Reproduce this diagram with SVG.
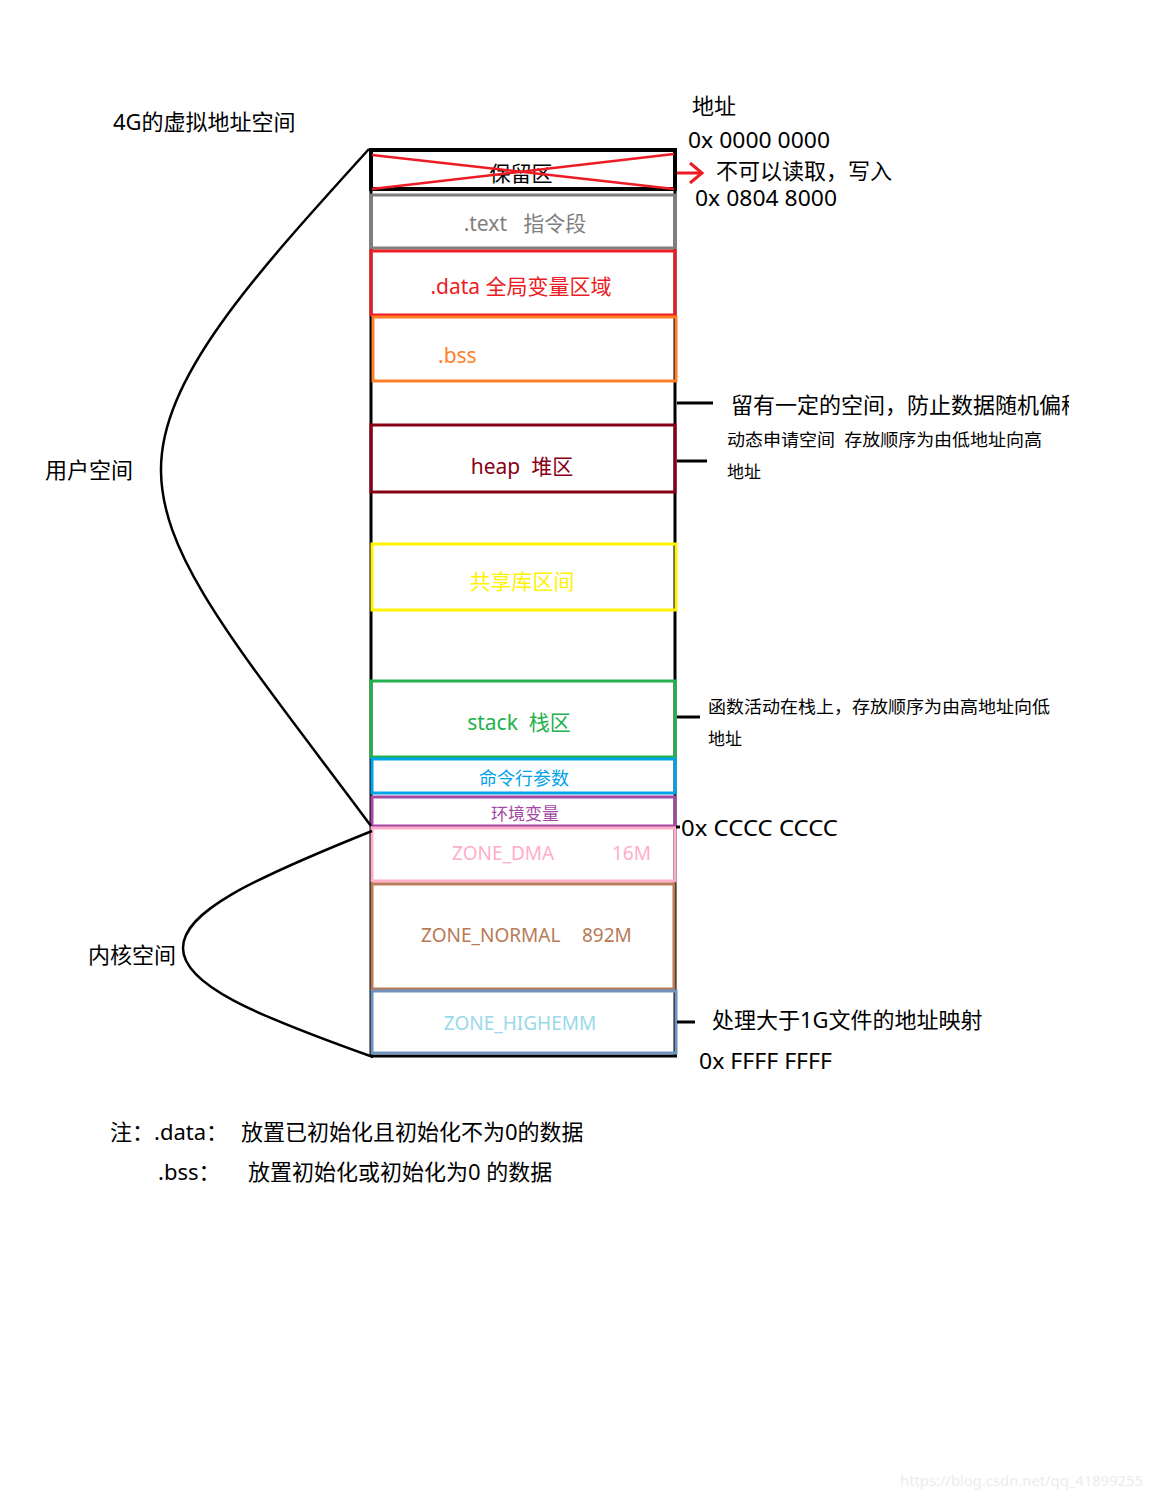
<svg xmlns="http://www.w3.org/2000/svg" width="1152" height="1500" viewBox="0 0 1152 1500">
<style>
text{font-family:"Noto Sans","Noto Sans CJK SC",sans-serif;white-space:pre;}
.t22{font-size:22px;fill:#000;}
.t17{font-size:17px;fill:#000;}
.box{fill:none;stroke-width:3;}
.bl{font-size:21px;text-anchor:middle;}
.zl{font-size:19px;}
.ln{fill:none;stroke:#000;stroke-width:2.5;}
.tk{stroke:#000;stroke-width:3;}
</style>
<defs>
<clipPath id="clipR"><rect x="0" y="0" width="1069" height="1500"/></clipPath>
</defs>
<rect width="1152" height="1500" fill="#fff"/>
<g id="frame">
<line x1="371" y1="148" x2="371" y2="1056" stroke="#000" stroke-width="3"/>
<line x1="675" y1="148" x2="675" y2="1056" stroke="#000" stroke-width="3"/>
<line x1="371" y1="1056" x2="677" y2="1056" stroke="#000" stroke-width="3"/>
</g>
<g id="reserved">
<rect x="371" y="150" width="304" height="39" fill="#fff" stroke="#000" stroke-width="4"/>
<text class="bl" x="521" y="181" fill="#000">保留区</text>
<line x1="372" y1="155" x2="674" y2="189" stroke="#ed1c24" stroke-width="2.5"/>
<line x1="372" y1="189" x2="674" y2="154" stroke="#ed1c24" stroke-width="2.5"/>
</g>
<g id="text-seg">
<rect class="box" x="371" y="195" width="304" height="53" stroke="#7f7f7f"/>
<text class="bl" x="525" y="231" fill="#7f7f7f">.text   指令段</text>
</g>
<g id="data-seg">
<rect class="box" x="371" y="251" width="304" height="64" stroke="#ed1c24"/>
<text class="bl" x="521" y="294" fill="#ed1c24">.data 全局变量区域</text>
</g>
<g id="bss-seg">
<rect class="box" x="373" y="317" width="303" height="64" stroke="#ff7f27"/>
<text x="438" y="363" font-size="21" fill="#ff7f27">.bss</text>
</g>
<g id="heap">
<rect class="box" x="371" y="425" width="304" height="67" stroke="#880015"/>
<text class="bl" x="522" y="474" fill="#880015">heap  堆区</text>
</g>
<g id="shared-lib">
<rect class="box" x="372" y="544" width="304" height="66" stroke="#fff200"/>
<text class="bl" x="522" y="589" fill="#fff200">共享库区间</text>
</g>
<g id="stack">
<rect class="box" x="371" y="681" width="304" height="76" stroke="#22b14c"/>
<text class="bl" x="519" y="730" fill="#22b14c">stack  栈区</text>
</g>
<g id="cmd-args">
<rect class="box" x="372" y="759" width="303" height="34" stroke="#00a2e8"/>
<text x="524" y="785" font-size="18" text-anchor="middle" fill="#00a2e8">命令行参数</text>
</g>
<g id="env">
<rect class="box" x="372" y="797" width="303" height="29" stroke="#a349a4"/>
<text x="525" y="820" font-size="17" text-anchor="middle" fill="#a349a4">环境变量</text>
</g>
<g id="zone-dma">
<rect class="box" x="372" y="828" width="303" height="53" stroke="#ffaec9"/>
<text class="zl" x="452" y="860" fill="#ffaec9">ZONE_DMA</text>
<text class="zl" x="612" y="860" fill="#ffaec9">16M</text>
</g>
<g id="zone-normal">
<rect class="box" x="372" y="884" width="302" height="105" stroke="#b97a57"/>
<text class="zl" x="421" y="942" fill="#b97a57">ZONE_NORMAL</text>
<text class="zl" x="582" y="942" fill="#b97a57">892M</text>
</g>
<g id="zone-highmem">
<rect class="box" x="372" y="991" width="304" height="62" stroke="#7092be"/>
<text class="zl" x="520" y="1030" text-anchor="middle" fill="#99d9ea">ZONE_HIGHEMM</text>
</g>
<g id="connectors">
<path class="ln" d="M369,149 C250,280 160,380 161,471 C162,560 240,650 371,826"/>
<path class="ln" d="M372,831 C250,880 183,912 183,948 C183,985 255,1015 373,1057"/>
<line x1="677" y1="173" x2="702" y2="173" stroke="#ed1c24" stroke-width="3"/>
<polyline points="690,163 702,173 690,183" fill="none" stroke="#ed1c24" stroke-width="3"/>
<line class="tk" x1="677" y1="403" x2="713" y2="403"/>
<line class="tk" x1="677" y1="461" x2="707" y2="461"/>
<line class="tk" x1="677" y1="717" x2="700" y2="717"/>
<line class="tk" x1="676" y1="827" x2="680" y2="827"/>
<line class="tk" x1="677" y1="1022" x2="695" y2="1022"/>
</g>
<g id="labels">
<text class="t22" x="113" y="130">4G的虚拟地址空间</text>
<text class="t22" x="45" y="478">用户空间</text>
<text class="t22" x="88" y="963">内核空间</text>
<text class="t22" x="692" y="114">地址</text>
<text class="t22" x="688" y="148" textLength="142" lengthAdjust="spacingAndGlyphs">0x 0000 0000</text>
<text class="t22" x="716" y="179">不可以读取，写入</text>
<text class="t22" x="695" y="206" font-size="21" textLength="142" lengthAdjust="spacingAndGlyphs">0x 0804 8000</text>
<text class="t22" x="731" y="413" clip-path="url(#clipR)">留有一定的空间，防止数据随机偏移</text>
<text class="t17" x="727" y="446" textLength="315" lengthAdjust="spacingAndGlyphs">动态申请空间  存放顺序为由低地址向高</text>
<text class="t17" x="727" y="478">地址</text>
<text class="t17" x="708" y="713" textLength="342" lengthAdjust="spacingAndGlyphs">函数活动在栈上，存放顺序为由高地址向低</text>
<text class="t17" x="708" y="745">地址</text>
<text class="t22" x="681" y="836" textLength="157" lengthAdjust="spacingAndGlyphs">0x CCCC CCCC</text>
<text class="t22" x="712" y="1028">处理大于1G文件的地址映射</text>
<text class="t22" x="699" y="1069" textLength="133" lengthAdjust="spacingAndGlyphs">0x FFFF FFFF</text>
<text class="t22" x="110" y="1140">注：.data：</text>
<text class="t22" x="241" y="1140">放置已初始化且初始化不为0的数据</text>
<text class="t22" x="158" y="1180">.bss：</text>
<text class="t22" x="248" y="1180">放置初始化或初始化为0 的数据</text>
<text x="900" y="1486" font-size="15" fill="#ececec" textLength="243" lengthAdjust="spacingAndGlyphs">https://blog.csdn.net/qq_41899255</text>
</g>
</svg>
